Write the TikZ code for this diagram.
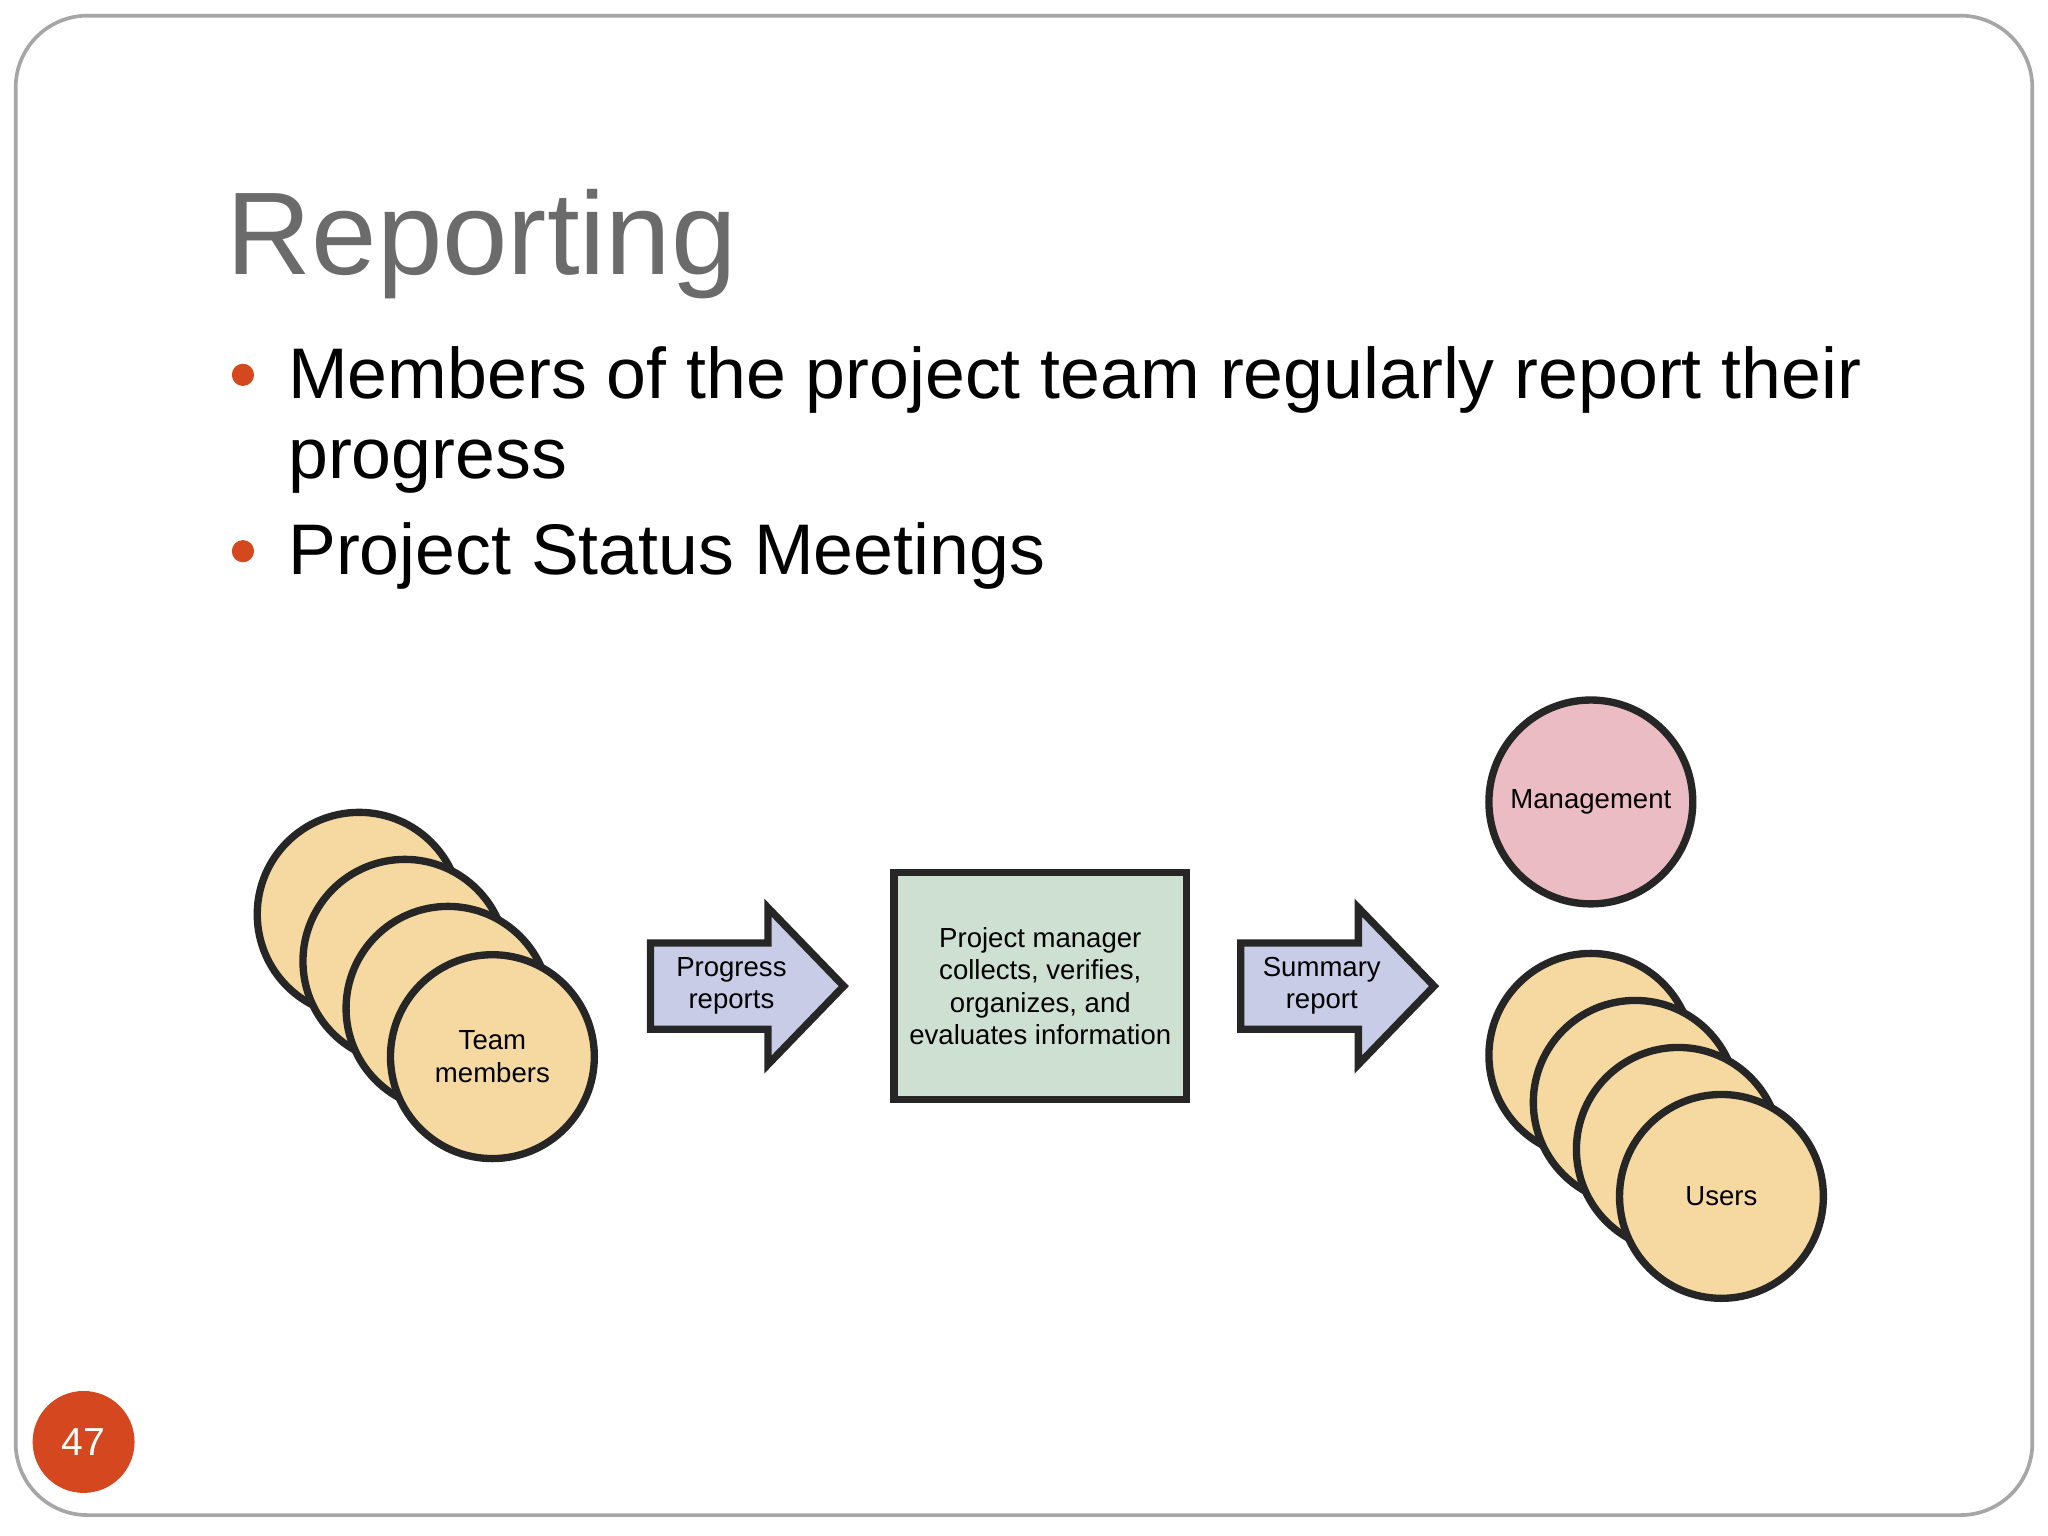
\documentclass[tikz,border=0pt]{standalone}
\usepackage{fontspec}
\setmainfont{Liberation Sans}
\definecolor{peach}{HTML}{F5D9A0}
\definecolor{pinkc}{HTML}{EBBCC3}
\definecolor{lav}{HTML}{C8CCE6}
\definecolor{mint}{HTML}{CDE0D2}
\definecolor{orng}{HTML}{D4471F}
\definecolor{ttl}{HTML}{6B6B6B}
\tikzset{
 pers/.style={circle,draw=black!85,line width=1.6pt,minimum size=156\pgflinewidth,inner sep=0pt,font=\fontsize{6}{7}\selectfont,align=center},
 blk/.style={draw=black!85,line width=1.6pt,fill=lav},
 lbl/.style={font=\fontsize{6}{7}\selectfont,align=center},
 bul/.style={circle,fill=orng,inner sep=0pt,minimum size=0.17cm},
 btxt/.style={anchor=base west,font=\fontsize{15.6}{18}\selectfont}
}
\begin{document}
\begin{tikzpicture}[x=0.01cm,y=-0.01cm]
\useasboundingbox (0,0) rectangle (1568,1176);
\draw[gray!70,line width=0.8pt,rounded corners=0.55cm] (12,12) rectangle (1556,1160);
\node[anchor=base west,text=ttl,font=\fontsize{25.6}{30}\selectfont,inner sep=0pt] (title) at (173,210) {Reporting};
\node[bul] (b1) at (186,287) {};
\node[btxt,inner sep=0pt] (t1) at (220,305) {Members of the project team regularly report their};
\node[btxt,inner sep=0pt] (t1b) at (220,366) {progress};
\node[bul] (b2) at (186,422) {};
\node[btxt,inner sep=0pt] (t2) at (220,440) {Project Status Meetings};
% page number
\node[circle,fill=orng,minimum size=0.78cm,inner sep=0pt,text=white,font=\fontsize{8.5}{10}\selectfont] (pg) at (64,1104) {47};
% team
\node[pers,fill=peach,minimum size=1.56cm] (tm1) at (275,700) {};
\node[pers,fill=peach,minimum size=1.56cm] (tm2) at (310,736) {};
\node[pers,fill=peach,minimum size=1.56cm] (tm3) at (343,772) {};
\node[pers,fill=peach,minimum size=1.56cm] (tm4) at (377,809) {Team\\members};
% arrow 1
\draw[blk] (498,722) -- (588,722) -- (588,695) -- (646,755) -- (588,815) -- (588,788) -- (498,788) -- cycle;
\node[lbl] (a1) at (560,755) {Progress\\reports};
% box
\node[draw=black!85,line width=1.6pt,fill=mint,minimum width=2.19cm,minimum height=1.74cm,lbl] (pm) at (796.5,755) {Project manager\\collects, verifies,\\organizes, and\\evaluates information};
% arrow 2
\draw[blk] (950,722) -- (1040,722) -- (1040,695) -- (1098,755) -- (1040,815) -- (1040,788) -- (950,788) -- cycle;
\node[lbl] (a2) at (1012,755) {Summary\\report};
% management
\node[pers,fill=pinkc,minimum size=1.56cm] (mg) at (1218,614) {Management};
% users
\node[pers,fill=peach,minimum size=1.56cm] (u1) at (1218,808) {};
\node[pers,fill=peach,minimum size=1.56cm] (u2) at (1252,844) {};
\node[pers,fill=peach,minimum size=1.56cm] (u3) at (1285,880) {};
\node[pers,fill=peach,minimum size=1.56cm] (u4) at (1318,916) {Users};
\end{tikzpicture}
\end{document}
